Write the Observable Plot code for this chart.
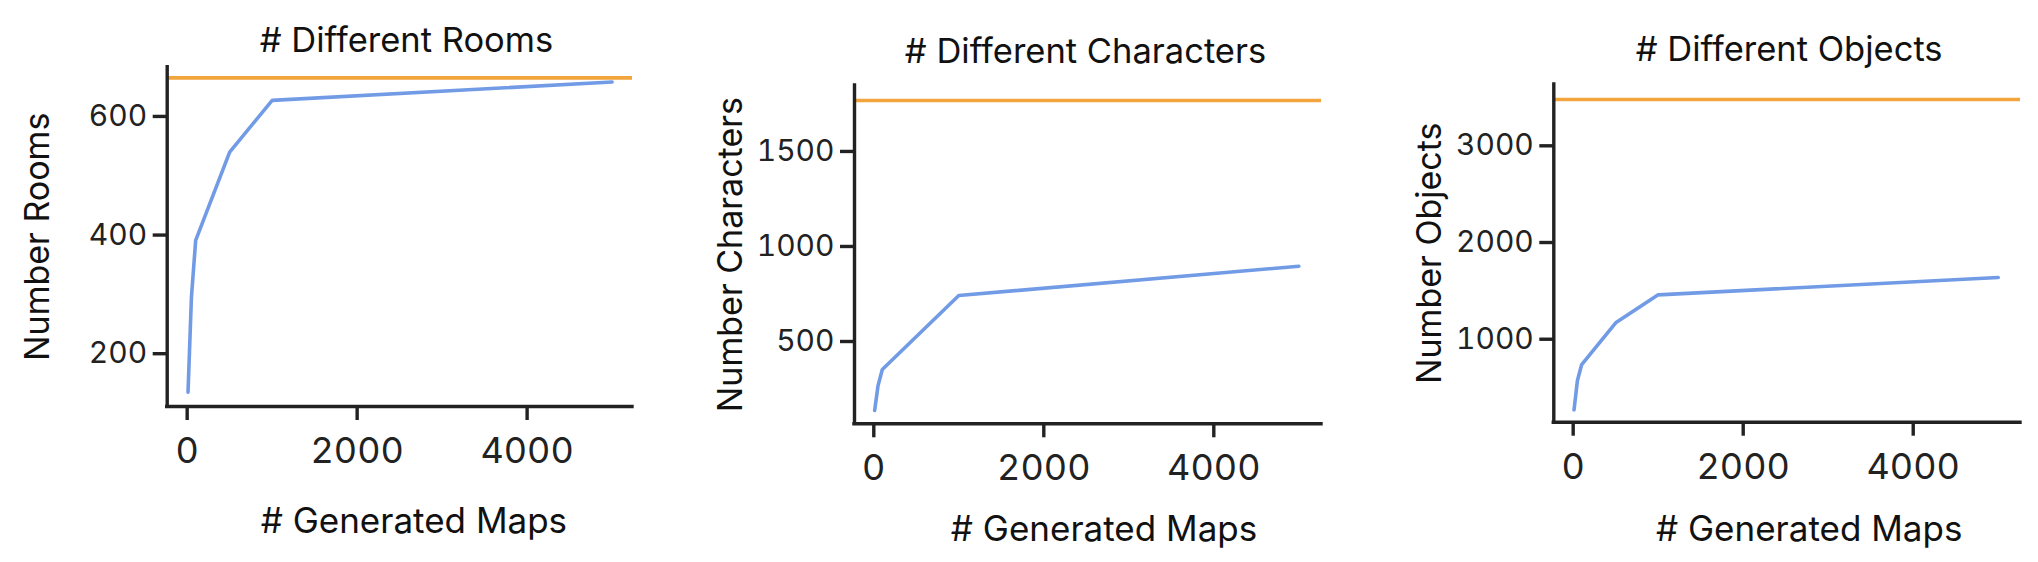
<!DOCTYPE html>
<html><head><meta charset="utf-8">
<script src="https://cdn.jsdelivr.net/npm/d3@7"></script>
<script src="https://cdn.jsdelivr.net/npm/@observablehq/plot@0.6"></script>
<style>
body{margin:0;background:#fff;}
#wrap{position:relative;width:2038px;height:562px;overflow:hidden;font-family:Inter,sans-serif;background:#fff;}
.panel{position:absolute;top:0;}
</style></head><body><div id="wrap"></div>
<script>
// ---- data ----
const mapsRooms = [10, 50, 100, 500, 1000, 5000];
const roomCounts = [135, 295, 391, 540, 627, 658];
const roomsTotal = 665;

const mapsCharacters = [10, 50, 100, 1000, 5000];
const characterCounts = [137, 268, 353, 742, 896];
const charactersTotal = 1768;

const mapsObjects = [10, 50, 100, 500, 1000, 5000];
const objectCounts = [270, 573, 738, 1170, 1459, 1638];
const objectsTotal = 3479;

const xTicks = [0, 2000, 4000];
const roomTicks = [200, 400, 600];
const characterTicks = [500, 1000, 1500];
const objectTicks = [1000, 2000, 3000];

const titles = ["# Different Rooms", "# Different Characters", "# Different Objects"];
const yLabels = ["Number Rooms", "Number Characters", "Number Objects"];
const xLabel = "# Generated Maps";

// ---- layout ----
const BLUE = "#729be6", ORANGE = "#f2a53c", INK = "#222";
const panels = [
  {left: 0, width: 680, mL: 166.7, mR: 48, mT: 66.7, mB: 156,
   xDomain: [-235, 5240], yDomain: [111, 683],
   xs: mapsRooms, ys: roomCounts, total: roomsTotal, ticks: roomTicks,
   titleDx: 6.6, titleDy: -14.7, xLabDx: 14, xLabDy: 115.7, yLabDx: -128.7},
  {left: 680, width: 680, mL: 174, mR: 39, mT: 85, mB: 138.7,
   xDomain: [-227, 5267], yDomain: [67, 1847],
   xs: mapsCharacters, ys: characterCounts, total: charactersTotal, ticks: characterTicks,
   titleDx: -2.5, titleDy: -23, xLabDx: 16, xLabDy: 105.7, yLabDx: -123},
  {left: 1360, width: 678, mL: 193.3, mR: 18, mT: 84, mB: 140.3,
   xDomain: [-228, 5262], yDomain: [142, 3634],
   xs: mapsObjects, ys: objectCounts, total: objectsTotal, ticks: objectTicks,
   titleDx: 2, titleDy: -24, xLabDx: 22, xLabDy: 107.3, yLabDx: -123.3}
];

const wrap = document.getElementById("wrap");
panels.forEach((p, i) => {
  const data = p.xs.map((x, j) => ({x, y: p.ys[j]}));
  const chart = Plot.plot({
    width: p.width, height: 562,
    marginLeft: p.mL, marginRight: p.mR, marginTop: p.mT, marginBottom: p.mB,
    x: {domain: p.xDomain},
    y: {domain: p.yDomain},
    style: {fontFamily: "Inter, sans-serif", fontSize: "30px", color: INK, background: "transparent", overflow: "visible"},
    marks: [
      Plot.ruleY([p.total], {stroke: ORANGE, strokeWidth: 3.6}),
      Plot.line(data, {x: "x", y: "y", stroke: BLUE, strokeWidth: 3.6, strokeLinejoin: "round"}),
      Plot.ruleX([p.xDomain[0]], {stroke: INK, strokeWidth: 3.4, strokeLinecap: "square"}),
      Plot.ruleY([p.yDomain[0]], {stroke: INK, strokeWidth: 3.4, strokeLinecap: "square"}),
      Plot.axisX({ticks: xTicks, tickSize: 14, tickPadding: 17, fontSize: 36, strokeWidth: 3.4, label: null, tickFormat: d => String(d)}),
      Plot.axisY({ticks: p.ticks, tickSize: 14, tickPadding: 6, fontSize: 30, strokeWidth: 3.4, label: null, tickFormat: d => String(d)}),
      Plot.text([titles[i]], {frameAnchor: "top", dx: p.titleDx, dy: p.titleDy, lineAnchor: "bottom", textAnchor: "middle", fontSize: 34.5, fill: "#111"}),
      Plot.text([xLabel], {frameAnchor: "bottom", dx: p.xLabDx, dy: p.xLabDy, lineAnchor: "middle", textAnchor: "middle", fontSize: 35, fill: "#111"}),
      Plot.text([yLabels[i]], {frameAnchor: "left", dx: p.yLabDx, rotate: -90, lineAnchor: "middle", textAnchor: "middle", fontSize: 34, fill: "#111"})
    ]
  });
  const div = document.createElement("div");
  div.className = "panel";
  div.style.left = p.left + "px";
  div.appendChild(chart);
  wrap.appendChild(div);
});
</script>
</body></html>
